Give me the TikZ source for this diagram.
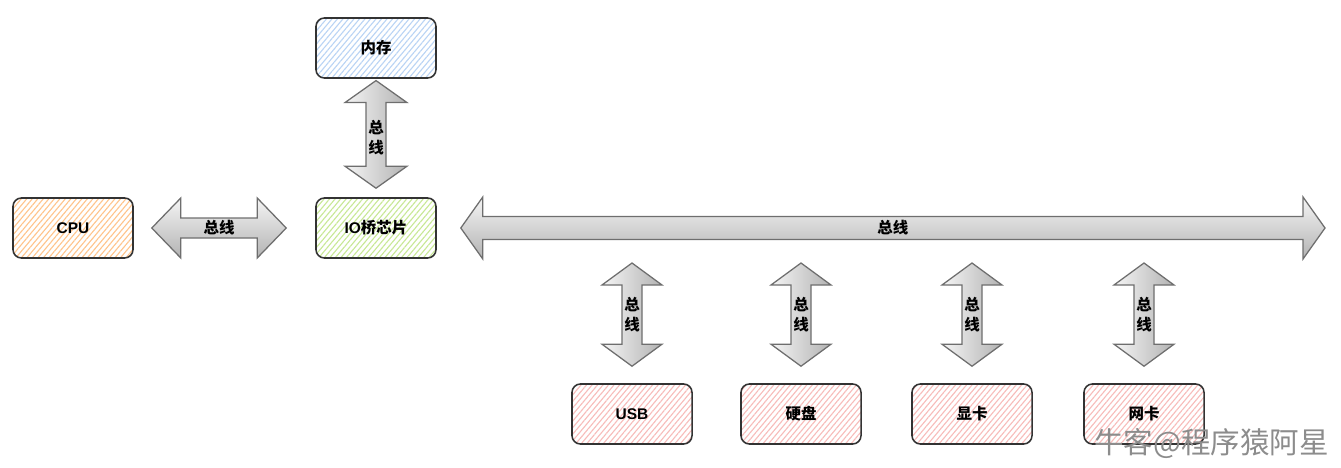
\documentclass[tikz,border=0pt]{standalone}
\usepackage{fontspec}
\setmainfont{Liberation Sans}
\newfontfamily\cjk{Noto Sans CJK SC}
\usetikzlibrary{calc,patterns.meta}

\definecolor{cpuhatch}{HTML}{FFC48C}
\definecolor{iohatch}{HTML}{C8E896}
\definecolor{memhatch}{HTML}{BAD4F4}
\definecolor{devhatch}{HTML}{F7BCBA}
\definecolor{busedge}{HTML}{6E6E6E}

\tikzset{
  box/.style={draw=black!80, line width=1.1pt, rounded corners=6pt,
    minimum width=3cm, minimum height=1.5cm, font=\bfseries\fontsize{11}{12}\selectfont},
  hatch/.style={pattern={Lines[angle=50,distance=3pt,line width=0.8pt]}, pattern color=#1},
  busarrow/.style={draw=busedge, line width=0.9pt, line join=miter},
  buslabel/.style={font=\cjk\bfseries\fontsize{11}{14}\selectfont, align=center, inner sep=0pt},
}

% fat double arrows: tip, tip, head length, half head width, half shaft width
\newcommand\hbus[5]{%
  \path[busarrow, top color=black!4, bottom color=black!30]
    (#1) -- ++(#3,-#4) -- ++(0,#4-#5) -- ($(#2)+(-#3,-#5)$) -- ++(0,#5-#4) -- (#2)
    -- ++(-#3,#4) -- ++(0,#5-#4) -- ($(#1)+(#3,#5)$) -- ++(0,#4-#5) -- cycle;}
\newcommand\vbus[5]{%
  \path[busarrow, left color=black!4, right color=black!30]
    (#1) -- ++(#4,#3) -- ++(#5-#4,0) -- ($(#2)+(#5,-#3)$) -- ++(#4-#5,0) -- (#2)
    -- ++(-#4,-#3) -- ++(#4-#5,0) -- ($(#1)+(-#5,#3)$) -- ++(#5-#4,0) -- cycle;}

\begin{document}
\begin{tikzpicture}[x=0.025cm, y=-0.025cm]
    \useasboundingbox (0,0) rectangle (1341,467);

    % units are pixels of the original sketch
    \node[box, hatch=memhatch] (mem) at (376,48)  {\cjk 内存};
    \node[box, hatch=cpuhatch] (cpu) at (73,228)  {CPU};
    \node[box, hatch=iohatch]  (io)  at (376,228) {IO\cjk 桥芯片};

    \node[box, hatch=devhatch] (usb)  at (632,414)  {USB};
    \node[box, hatch=devhatch] (disk) at (801,414)  {\cjk 硬盘};
    \node[box, hatch=devhatch] (gpu)  at (972,414)  {\cjk 显卡};
    \node[box, hatch=devhatch] (nic)  at (1144,414) {\cjk 网卡};

    % cpu <-> io
    \coordinate (cpubus-l) at ($(cpu.east)+(18,0)$);
    \coordinate (cpubus-r) at ($(io.west)+(-29,0)$);
    \hbus{cpubus-l}{cpubus-r}{29}{30}{10}
    \node[buslabel] at ($(cpubus-l)!0.5!(cpubus-r)$) {总线};

    % mem <-> io
    \coordinate (membus-t) at ($(mem.south)+(0,2)$);
    \coordinate (membus-b) at ($(io.north)+(0,-9)$);
    \vbus{membus-t}{membus-b}{22}{31}{10}
    \node[buslabel] at ($(membus-t)!0.5!(membus-b)+(0,3)$) {总\\线};

    % system bus
    \coordinate (bus-l) at ($(io.east)+(24,0)$);
    \coordinate (bus-r) at (1325,228);
    \hbus{bus-l}{bus-r}{22}{31}{11.5}
    \node[buslabel] at ($(bus-l)!0.5!(bus-r)$) {总线};

    % devices
    \foreach \dev in {usb,disk,gpu,nic}{
      \coordinate (\dev-t) at ($(\dev.north |- bus-r)+(0,35)$);
      \coordinate (\dev-b) at ($(\dev.north)+(0,-17)$);
      \vbus{\dev-t}{\dev-b}{22}{30}{10}
      \node[buslabel] at ($(\dev-t)!0.5!(\dev-b)$) {总\\线};
    }

    \node[text=black!45, font=\cjk\fontsize{21}{24}\selectfont, anchor=east] (mark) at (1334,444) {牛客@程序猿阿星};
\end{tikzpicture}
\end{document}
